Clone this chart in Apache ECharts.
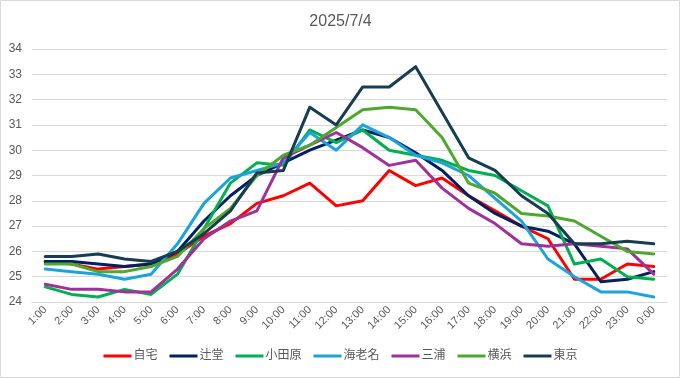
<!DOCTYPE html>
<html>
<head>
<meta charset="utf-8">
<script src="https://cdn.jsdelivr.net/npm/echarts@6/dist/echarts.min.js"></script>
<style>
html,body{margin:0;padding:0;background:#fff;}
#chart{width:681px;height:379px;}
</style>
</head>
<body>
<div id="chart"></div>
<script>
const title = '2025/7/4';
const categories = ['1:00','2:00','3:00','4:00','5:00','6:00','7:00','8:00','9:00','10:00','11:00','12:00','13:00','14:00','15:00','16:00','17:00','18:00','19:00','20:00','21:00','22:00','23:00','0:00'];
const seriesNames = ['自宅','辻堂','小田原','海老名','三浦','横浜','東京'];
const jitaku   = [25.6,25.5,25.3,25.4,25.5,25.9,26.6,27.1,27.9,28.2,28.7,27.8,28.0,29.2,28.6,28.9,28.2,27.6,27.0,26.5,24.9,24.9,25.5,25.4];
const tsujido  = [25.6,25.6,25.5,25.4,25.5,26.0,27.2,28.2,29.0,29.5,30.0,30.4,30.8,30.5,29.9,29.2,28.2,27.5,27.0,26.8,26.3,24.8,24.9,25.2];
const odawara  = [24.6,24.3,24.2,24.5,24.3,25.1,26.9,28.7,29.5,29.4,30.8,30.3,30.8,30.0,29.8,29.6,29.2,29.0,28.4,27.8,25.5,25.7,25.0,24.9];
const ebina    = [25.3,25.2,25.1,24.9,25.1,26.3,27.9,28.9,29.2,29.5,30.7,30.0,31.0,30.5,29.8,29.5,29.0,28.1,27.2,25.7,25.0,24.4,24.4,24.2];
const miura    = [24.7,24.5,24.5,24.4,24.4,25.3,26.5,27.2,27.6,29.7,30.2,30.7,30.1,29.4,29.6,28.5,27.7,27.1,26.3,26.2,26.3,26.2,26.1,25.1];
const yokohama = [25.5,25.5,25.2,25.2,25.4,25.8,26.9,27.7,29.0,29.8,30.2,30.9,31.6,31.7,31.6,30.5,28.7,28.3,27.5,27.4,27.2,26.6,26.0,25.9];
const tokyo    = [25.8,25.8,25.9,25.7,25.6,26.0,26.7,27.6,29.1,29.2,31.7,31.0,32.5,32.5,33.3,31.5,29.7,29.2,28.2,27.5,26.3,26.3,26.4,26.3];
const yTicks = {min:24, max:34, interval:1};

const values = [jitaku,tsujido,odawara,ebina,miura,yokohama,tokyo];
const colors = ['#FF0000','#002060','#00B050','#1CA3DE','#A0309A','#4EA72E','#163E50'];
const font = "'Liberation Sans','Noto Sans CJK JP',sans-serif";

const chart = echarts.init(document.getElementById('chart'), null, {renderer:'canvas'});
chart.setOption({
  animation:false,
  backgroundColor:'#ffffff',
  title:{text:title,left:'center',top:9,textStyle:{color:'#595959',fontSize:16,fontWeight:'normal',fontFamily:font}},
  grid:{left:32,right:14,top:49,bottom:77,containLabel:false},
  legend:{
    data:seriesNames,bottom:12,left:'center',icon:'rect',itemWidth:28,itemHeight:3,itemGap:12,
    textStyle:{color:'#595959',fontSize:12,fontFamily:font,padding:[0,0,0,-3]}
  },
  xAxis:{
    type:'category',data:categories,boundaryGap:true,
    axisLine:{show:true,lineStyle:{color:'#D9D9D9'}},
    axisTick:{show:false},
    axisLabel:{color:'#595959',fontSize:11,rotate:45,margin:6,interval:0,fontFamily:font}
  },
  yAxis:{
    type:'value',min:yTicks.min,max:yTicks.max,interval:yTicks.interval,
    axisLine:{show:false},axisTick:{show:false},
    axisLabel:{color:'#595959',fontSize:12,margin:10,fontFamily:font},
    splitLine:{lineStyle:{color:'#D9D9D9',width:1}}
  },
  graphic:[{type:'rect',shape:{x:0.5,y:0.5,width:679,height:377},style:{fill:'none',stroke:'#D9D9D9',lineWidth:1},silent:true}],
  series:seriesNames.map((n,i)=>({
    name:n,type:'line',data:values[i],symbol:'none',smooth:false,
    lineStyle:{color:colors[i],width:3,cap:'round',join:'round'},
    itemStyle:{color:colors[i]}
  }))
});
</script>
</body>
</html>
